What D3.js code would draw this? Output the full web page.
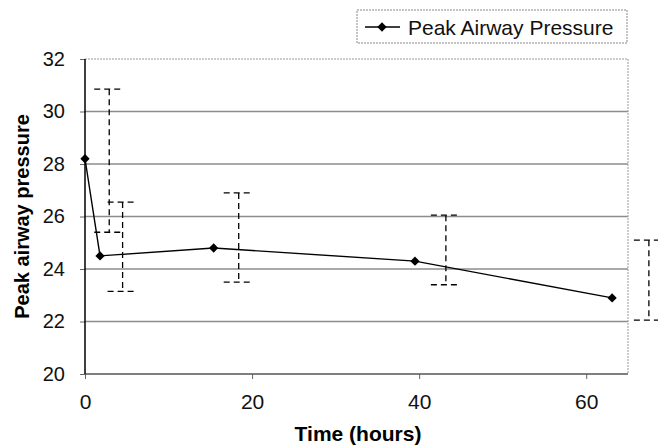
<!DOCTYPE html>
<html>
<head>
<meta charset="utf-8">
<script src="https://cdnjs.cloudflare.com/ajax/libs/d3/7.8.5/d3.min.js"></script>
<style>
  body { margin: 0; background: #fff; }
  svg { display: block; font-family: "Liberation Sans", Arial, sans-serif; }
</style>
</head>
<body>
<div id="chart"></div>
<script>
var vWidth = 658;
var vHeight = 446;

// Values
var timeHours = [0, 1.8, 15.4, 39.5, 63.1];
var pressure = [28.2, 24.5, 24.8, 24.3, 22.9];
// error bars sit a little right of their points in the original
var errTime = [2.9, 4.5, 18.4, 43.2, 67.5];
var errHigh = [30.85, 26.55, 26.9, 26.05, 25.1];
var errLow = [25.4, 23.15, 23.5, 23.4, 22.05];
var yTicks = [20, 22, 24, 26, 28, 30, 32];
var xTicks = [0, 20, 40, 60];
var seriesName = "Peak Airway Pressure";

var plot = { left: 85, right: 628, top: 59, bottom: 374 };

var svg = d3.select("#chart")
    .append("svg")
    .attr("width", vWidth)
    .attr("height", vHeight);

var x = d3.scaleLinear().domain([0, 65]).range([plot.left, plot.right]);
var y = d3.scaleLinear().domain([20, 32]).range([plot.bottom, plot.top]);

// gridlines
svg.append("g")
    .selectAll("line")
    .data(yTicks.filter(d => d > 20 && d < 32))
    .enter().append("line")
    .attr("x1", plot.left).attr("x2", plot.right)
    .attr("y1", d => y(d)).attr("y2", d => y(d))
    .attr("stroke", "#8c8c8c")
    .attr("stroke-width", 1.5);

// top and right frame, light dotted
svg.append("path")
    .attr("d", `M${plot.left},${plot.top}H${plot.right}V${plot.bottom}`)
    .attr("fill", "none")
    .attr("stroke", "#999")
    .attr("stroke-width", 1)
    .attr("stroke-dasharray", "2,1");

// axes
var yAxis = d3.axisLeft(y).tickValues(yTicks).tickSize(5).tickPadding(15);
var xAxis = d3.axisBottom(x).tickValues(xTicks).tickSize(5).tickPadding(15);

var gy = svg.append("g")
    .attr("transform", `translate(${plot.left},0)`)
    .call(yAxis);
gy.select(".domain").remove();
gy.selectAll("line").attr("stroke", "#666");
gy.selectAll("text").attr("font-size", 20).attr("fill", "#111");

var gx = svg.append("g")
    .attr("transform", `translate(0,${plot.bottom})`)
    .call(xAxis);
gx.select(".domain").remove();
gx.selectAll("line").attr("stroke", "#666");
gx.selectAll("text").attr("font-size", 21).attr("fill", "#111");

svg.append("line")
    .attr("x1", plot.left).attr("x2", plot.right)
    .attr("y1", plot.bottom).attr("y2", plot.bottom)
    .attr("stroke", "#555").attr("stroke-width", 1.3);
svg.append("line")
    .attr("x1", plot.left).attr("x2", plot.left)
    .attr("y1", plot.top).attr("y2", plot.bottom)
    .attr("stroke", "#000").attr("stroke-width", 1.5);

// error bars
var capHalf = 15;
var eb = svg.append("g")
    .attr("stroke", "#000")
    .attr("stroke-width", 1.3)
    .attr("stroke-dasharray", "6,4")
    .attr("fill", "none");
errTime.forEach(function (t, i) {
    var cx = x(t);
    eb.append("line")
        .attr("x1", cx).attr("x2", cx)
        .attr("y1", y(errHigh[i])).attr("y2", y(errLow[i]));
    [errHigh[i], errLow[i]].forEach(function (v) {
        eb.append("line")
            .attr("x1", cx - capHalf).attr("x2", cx + capHalf)
            .attr("y1", y(v)).attr("y2", y(v));
    });
});

// series line
var pts = timeHours.map((t, i) => [t, pressure[i]]);
svg.append("path")
    .datum(pts)
    .attr("fill", "none")
    .attr("stroke", "#000")
    .attr("stroke-width", 1.4)
    .attr("d", d3.line().x(d => x(d[0])).y(d => y(d[1])));

var diamond = d3.symbol().type(d3.symbolDiamond2).size(55);
svg.append("g")
    .selectAll("path")
    .data(pts)
    .enter().append("path")
    .attr("transform", d => `translate(${x(d[0])},${y(d[1])})`)
    .attr("d", diamond)
    .attr("fill", "#000");

// axis titles
svg.append("text")
    .attr("transform", `translate(22,${(plot.top + plot.bottom) / 2}) rotate(-90)`)
    .attr("text-anchor", "middle")
    .attr("dy", "0.35em")
    .attr("font-size", 20)
    .attr("font-weight", "bold")
    .text("Peak airway pressure");

svg.append("text")
    .attr("x", 358)
    .attr("y", 441)
    .attr("text-anchor", "middle")
    .attr("font-size", 21)
    .attr("font-weight", "bold")
    .text("Time (hours)");

// legend
var legend = svg.append("g").attr("transform", "translate(357,10)");
legend.append("rect")
    .attr("width", 270).attr("height", 33)
    .attr("fill", "#fff")
    .attr("stroke", "#888")
    .attr("stroke-dasharray", "2,1");
legend.append("line")
    .attr("x1", 8).attr("x2", 43)
    .attr("y1", 17).attr("y2", 17)
    .attr("stroke", "#000").attr("stroke-width", 1.4);
legend.append("path")
    .attr("transform", "translate(25,17)")
    .attr("d", diamond)
    .attr("fill", "#000");
legend.append("text")
    .attr("x", 51).attr("y", 24.5)
    .attr("font-size", 21)
    .attr("fill", "#111")
    .text(seriesName);
</script>
</body>
</html>
